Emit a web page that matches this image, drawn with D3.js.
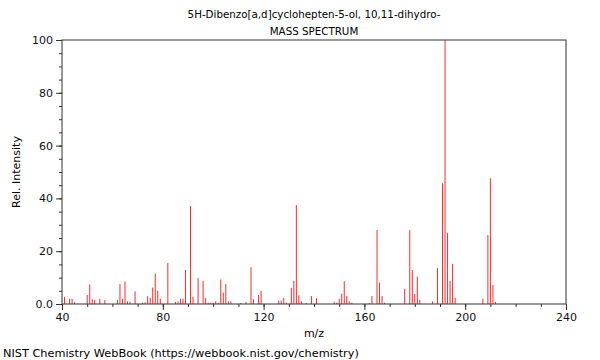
<!DOCTYPE html>
<html lang="en">
<head>
  <meta charset="UTF-8">
  <title>Mass spectrum</title>
  <script src="https://cdnjs.cloudflare.com/ajax/libs/d3/7.8.5/d3.min.js"></script>
  <style>
    body { margin: 0; background: #fff; }
    svg { display: block; font-family: "DejaVu Sans", sans-serif; }
  </style>
</head>
<body>
  <svg id="chart" width="600" height="360"></svg>
  <script>
    // peaks
    const mz = [41, 43, 44, 45, 50, 51, 52, 53, 55, 57, 62, 63, 64, 65, 66, 67, 69, 72, 73, 74,
      75, 76, 77, 78, 79, 82, 85, 86, 87, 88, 89, 91, 92, 94, 96, 97, 98, 99, 100, 101,
      102, 103, 104, 105, 106, 107, 111, 113, 115, 116, 118, 119, 126, 127, 128, 129, 131, 132, 133, 134,
      135, 137, 139, 141, 148, 149, 150, 151, 152, 153, 154, 155, 162, 163, 165, 166, 167, 168, 176, 178,
      179, 180, 181, 182, 187, 189, 191, 192, 193, 194, 195, 196, 207, 209, 210, 211, 212];
    const intensity = [2.7, 2, 2, 0.7, 3.4, 7.4, 1.8, 1.5, 2, 1.5, 1.5, 7.6, 2, 8.5, 1, 0.8, 4.8, 0.5, 0.6, 3,
      2.3, 6.2, 11.5, 5, 2, 15.5, 0.8, 1, 2, 2, 12.9, 37.1, 2.8, 9.8, 8.8, 2.3, 0.5, 0.5, 0.5, 1,
      0.5, 9.3, 4.3, 7.6, 1, 1, 0.3, 0.8, 13.9, 1.8, 3.4, 5, 1.3, 1.3, 2.3, 0.5, 6.1, 8.8, 37.5, 3.3,
      1, 0.3, 3, 2.2, 0.8, 0.5, 2, 3.9, 8.6, 3, 1, 0.5, 0.3, 3, 28, 8.1, 3, 0.5, 5.8, 28,
      12.9, 3.8, 10.4, 1.5, 1, 13.6, 45.7, 100, 27, 8.8, 15.2, 2.3, 2, 26.1, 47.6, 7.2, 0.8];
    const xTicks = [40, 80, 120, 160, 200, 240];
    const yTicks = [0, 20, 40, 60, 80, 100];

    const peaks = mz.map((m, i) => ({mz: m, rel: intensity[i]}));

    const svg = d3.select("#chart");
    const margin = {top: 40, right: 34, bottom: 56, left: 62};
    const width = 600 - margin.left - margin.right;
    const height = 360 - margin.top - margin.bottom;

    const x = d3.scaleLinear().domain([40, 240]).range([0, width]);
    const y = d3.scaleLinear().domain([0, 100]).range([height, 0]);

    const g = svg.append("g").attr("transform", `translate(${margin.left},${margin.top})`);

    // peaks
    g.selectAll("line.peak")
      .data(peaks)
      .enter()
      .append("line")
      .attr("class", "peak")
      .attr("x1", d => x(d.mz))
      .attr("x2", d => x(d.mz))
      .attr("y1", y(0))
      .attr("y2", d => y(d.rel))
      .attr("stroke", "#ff2a2a")
      .attr("stroke-width", 1);

    // minor ticks
    g.append("g")
      .attr("transform", `translate(0,${height})`)
      .call(d3.axisBottom(x).tickValues(d3.range(40, 241, 10)).tickSize(3).tickFormat(""))
      .call(a => a.select(".domain").remove());
    g.append("g")
      .call(d3.axisLeft(y).tickValues(d3.range(0, 101, 5)).tickSize(3).tickFormat(""))
      .call(a => a.select(".domain").remove());

    // major ticks
    const xAxis = g.append("g")
      .attr("transform", `translate(0,${height})`)
      .call(d3.axisBottom(x).tickValues(xTicks).tickSize(6).tickPadding(3));
    const yAxis = g.append("g")
      .call(d3.axisLeft(y).tickValues(yTicks).tickSize(6).tickPadding(3)
        .tickFormat(d => d === 0 ? "0.0" : d));

    g.selectAll(".tick line").attr("stroke", "#333");
    g.selectAll(".domain").remove();
    [xAxis, yAxis].forEach(a => a.selectAll("text")
      .attr("font-size", 11).attr("font-family", "DejaVu Sans").attr("fill", "#111"));

    // frame
    g.append("rect")
      .attr("width", width)
      .attr("height", height)
      .attr("fill", "none")
      .attr("stroke", "#333")
      .attr("stroke-width", 1);

    // labels
    svg.append("text")
      .attr("x", margin.left + width / 2)
      .attr("y", 18)
      .attr("text-anchor", "middle")
      .attr("font-size", 10.3)
      .text("5H-Dibenzo[a,d]cyclohepten-5-ol, 10,11-dihydro-");
    svg.append("text")
      .attr("x", margin.left + width / 2)
      .attr("y", 35)
      .attr("text-anchor", "middle")
      .attr("font-size", 10.3)
      .text("MASS SPECTRUM");
    svg.append("text")
      .attr("x", margin.left + width / 2)
      .attr("y", 337)
      .attr("text-anchor", "middle")
      .attr("font-size", 11)
      .text("m/z");
    svg.append("text")
      .attr("transform", `translate(20,${margin.top + height / 2}) rotate(-90)`)
      .attr("text-anchor", "middle")
      .attr("font-size", 11)
      .text("Rel. Intensity");
    svg.append("text")
      .attr("x", 3)
      .attr("y", 357)
      .attr("font-size", 11.3)
      .text("NIST Chemistry WebBook (https://webbook.nist.gov/chemistry)");
  </script>
</body>
</html>
